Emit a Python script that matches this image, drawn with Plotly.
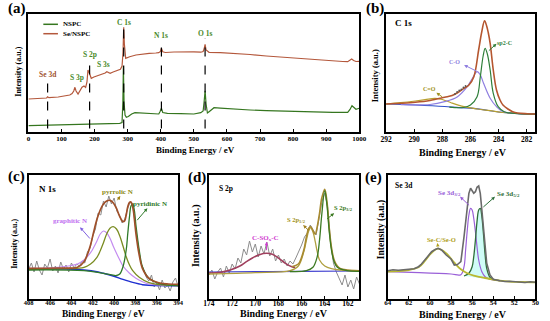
import plotly.graph_objects as go

W, H = 550, 321
SERIF = "Liberation Serif"

# ---------------- (a) survey ----------------
A_X_NSPC = [0, 50, 100, 150, 200, 250, 276, 283, 285.5, 287, 289, 292, 296, 302, 312, 322, 340, 370, 394, 398,
            402, 406, 420, 460, 500, 521, 528, 531, 534, 537, 541, 546, 553, 561, 580, 620, 670, 719, 770, 817,
            870, 920, 965, 972, 978, 984, 990, 1000]
A_Y_NSPC = [6.3, 6.6, 7.0, 7.3, 7.7, 8.2, 8.7, 9.5, 30, 66, 30, 17, 14.7, 15.5, 18, 19.3, 19, 18.5, 18, 20.5,
            23.7, 19.5, 18.7, 18.3, 18.0, 19.3, 21, 30, 41.3, 28, 19, 20.3, 22.5, 24.3, 23.8, 22.7, 22, 21.3, 20.8, 20,
            19.8, 19.7, 19.7, 22.5, 26.3, 24, 22.7, 23.7]
A_X_SE = [0, 30, 55, 58, 62, 90, 116, 125, 132, 137, 140.6, 144, 150, 156, 162, 168, 173, 177, 180, 184,
          190, 198, 208, 218, 227, 232, 237, 242, 247, 256, 266, 278, 283, 286, 288, 290, 294, 306, 325, 345,
          365, 385, 394, 399, 402, 406, 414, 440, 473, 500, 521, 528, 531, 534, 537, 546, 580, 620, 670, 719,
          770, 817, 870, 916, 950, 965, 971, 977, 983, 990, 1000]
A_Y_SE = [33, 33.5, 34, 35.2, 34.3, 35, 36, 37, 38.5, 41, 44.7, 41, 38, 41, 44.7, 46, 44.5, 50, 62, 59,
          53.7, 55, 56, 57, 58, 59, 60.3, 59.5, 58.7, 60, 61.3, 62.7, 66, 80, 104.7, 88, 73.7, 75.3, 77, 78,
          78.7, 79, 79.3, 80.5, 83.7, 80.2, 79.5, 80, 80.3, 80.2, 79.8, 80.5, 83, 87.7, 82, 79.7, 79.3, 78.7, 77.5, 76,
          74.7, 73.3, 72, 71, 70.5, 70.3, 71.5, 73, 71.5, 70.5, 70.7]
A_DASH_X = [58, 185, 288, 402, 534]
A_DASH_TOP = [52, 67, 105.3, 90.3, 93.7]
A_DASH_BOTTOM = [3.5, 3.5, 3.5, 3.5, 3.5]
A_PEAK_LABELS = ["Se 3d", "S 3p", "S 2p", "S 3s", "C 1s", "N 1s", "O 1s"]
A_PEAK_LX = [58, 146, 185.5, 226.7, 288, 402, 534]
A_PEAK_LY = [58, 54.7, 78, 68, 109.3, 97, 98.7]

# ---------------- (b) C 1s ----------------
B_X_ENV = [292.0, 290.96, 289.92, 288.88, 287.84, 287.3, 286.92, 286.46, 286.11, 285.76, 285.42, 285.2, 285.0,
           284.85, 284.73, 284.6, 284.38, 284.15, 283.9, 283.69, 283.34, 283.0, 282.65, 281.96, 281.32]
B_Y_ENV = [28, 28.7, 29.7, 31.5, 34.7, 36.5, 39.3, 43.7, 47, 55.3, 82, 100, 111.3,
           106, 99, 88.7, 62, 42, 32, 27, 23, 20.3, 19, 18.3, 18]
B_X_BASE = [292.0, 289.92, 287.84, 286.8, 285.76, 284.73, 283.69, 282.65, 281.32]
B_Y_BASE = [28, 27, 25.5, 24.3, 23.7, 21.5, 19.5, 18.5, 18]
B_X_SP2 = [287.5, 286.5, 286.0, 285.53, 285.3, 285.1, 284.96, 284.8, 284.6, 284.38, 284.03, 283.6, 282.65, 281.32]
B_Y_SP2 = [24.8, 24.5, 27, 35.3, 55.3, 76, 83.7, 78, 62, 38.7, 25.3, 20.3, 18.3, 17.9]
B_X_CO = [290.96, 288.88, 287.84, 286.92, 286.23, 285.85, 285.53, 285.3, 285.07, 284.6, 284.15, 283.7, 282.65, 281.32]
B_Y_CO = [27.3, 27.5, 30.3, 35.3, 45.3, 54, 60.3, 57, 48.7, 33.7, 25.3, 20.5, 18.3, 17.9]
B_X_CEQO = [292.0, 290.96, 289.92, 289.23, 288.54, 288.0, 287.38, 286.46, 285.5, 284.6, 283.69, 282.65, 281.32]
B_Y_CEQO = [28, 29.3, 31, 32.3, 33.7, 32.5, 29.3, 25.3, 23, 21.3, 19.5, 18.5, 17.9]
B_X_RAW = [287.1, 286.95, 286.8, 286.65, 286.5, 286.35]
B_Y_RAW = [38, 40, 41.5, 42.5, 44.5, 46]

# ---------------- (c) N 1s ----------------
C_X_RAW = [408.00, 407.75, 407.50, 407.25, 407.00, 406.75, 406.50, 406.25, 406.00, 405.75, 405.50, 405.25,
           405.00, 404.75, 404.50, 404.25, 404.00, 403.75, 403.50, 403.25, 403.00, 402.75, 402.50, 402.25,
           402.00, 401.75, 401.50, 401.25, 401.00, 400.75, 400.50, 400.25, 400.00, 399.75, 399.50, 399.25,
           399.00, 398.75, 398.50, 398.25, 398.00, 397.75, 397.50, 397.25, 397.00, 396.75, 396.50, 396.25,
           396.00, 395.75, 395.50, 395.25, 395.00, 394.75, 394.50, 394.25, 394.00]
C_Y_RAW = [30, 36, 27, 38, 29, 24, 35, 31, 40, 28, 33, 26,
           37, 30, 34, 27, 36, 31, 35, 33, 38, 36, 47, 51,
           63, 70, 86, 84, 98, 92, 103, 95, 101, 88, 84, 76,
           80, 90, 97, 93, 72, 52, 36, 30, 22, 18, 24, 12,
           16, 9, 19, 11, 14, 8, 17, 21, 12]
C_X_ENV = [408.0, 405.26, 403.44, 402.82, 402.52, 402.21, 401.91, 401.61, 401.30, 401.0, 400.70, 400.39, 400.09,
           399.78, 399.47, 399.17, 399.02, 398.87, 398.72, 398.56, 398.42, 398.26, 398.11, 397.96, 397.65, 397.35,
           396.74, 395.82, 394.91, 394.0]
C_Y_ENV = [30.7, 31, 31.7, 37.3, 44, 54, 67.3, 79.7, 89, 95, 98, 98.7, 96.3,
           90.7, 82.3, 77.3, 78, 84, 92.3, 96.7, 97, 92.3, 80.7, 65.7, 44, 30.7,
           20.7, 16.3, 15, 14.7]
C_X_BASE = [408, 404.35, 402.82, 401.61, 401.0, 400.09, 399.17, 398.26, 397.65, 397.35, 396.74, 394]
C_Y_BASE = [30.3, 30, 29, 27.3, 25.7, 23, 19.7, 16.7, 15, 14.3, 13.7, 13.3]
C_X_GRA = [408, 405.26, 403.44, 402.82, 402.21, 401.91, 401.61, 401.30, 401.0, 400.70, 400.39, 400.09, 399.78,
           399.47, 399.17, 398.56, 397.96, 397.35, 396.74, 395.82, 394]
C_Y_GRA = [30.7, 31.7, 35, 39, 46.3, 51.7, 58, 65, 68, 66.3, 60.7, 53, 45.7,
           39, 33, 25.7, 20.7, 17.3, 15, 14, 13.3]
C_X_PYRRO = [408, 404.35, 402.82, 402.21, 401.61, 401.30, 401.0, 400.70, 400.39, 400.09, 399.78, 399.47, 399.17,
             398.87, 398.56, 398.26, 397.65, 396.74, 395.82, 394]
C_Y_PYRRO = [29.7, 30.3, 31.7, 35, 41.7, 48.3, 56.3, 65, 70.7, 72.3, 70, 63, 53,
             42.3, 34, 28.3, 21.7, 16.3, 14.3, 13.3]
C_X_PYRI = [408, 402.82, 401.0, 399.78, 399.47, 399.17, 398.87, 398.72, 398.56, 398.42, 398.26, 398.11, 397.96,
            397.65, 397.35, 396.74, 395.82, 394]
C_Y_PYRI = [29, 28.3, 25.7, 23.5, 25, 32.3, 49, 65.7, 82.3, 93, 95, 89, 74,
            49, 32.3, 20.7, 15.7, 13.3]

# ---------------- (d) S 2p ----------------
D_X_RAW = [174.00, 173.75, 173.50, 173.25, 173.00, 172.75, 172.50, 172.25, 172.00, 171.75, 171.50, 171.25,
           171.00, 170.75, 170.50, 170.25, 170.00, 169.75, 169.50, 169.25, 169.00, 168.75, 168.50, 168.25,
           168.00, 167.75, 167.50, 167.25, 167.00, 166.75, 166.50, 166.25, 166.00, 165.75, 165.50, 165.25,
           165.00, 164.75, 164.50, 164.25, 164.00, 163.75, 163.50, 163.25, 163.00, 162.75, 162.50, 162.25,
           162.00, 161.75, 161.50, 161.25, 161.00]
D_Y_RAW = [24, 29, 20, 27, 31, 22, 33, 26, 35, 30, 41, 36,
           50, 44, 58, 47, 55, 42, 53, 45, 57, 43, 50, 38,
           44, 36, 40, 33, 38, 35, 41, 47, 54, 62, 66, 74,
           69, 64, 80, 97, 106, 92, 58, 36, 27, 21, 14, 24,
           12, 19, 10, 22, 15]
D_X_BASE = [174, 170, 166, 161]
D_Y_BASE = [27, 27.3, 27.6, 28]
D_X_CSOX = [174, 173.01, 172.17, 171.33, 170.77, 170.21, 169.65, 169.03, 168.53, 167.96, 167.40, 166.84, 166.56]
D_Y_CSOX = [26, 26.7, 29, 33, 37.3, 41.3, 44.3, 45.7, 44.7, 40.7, 35.7, 32.3, 31.7]
D_X_P12 = [174, 170, 167, 166.28, 165.77, 165.58, 165.38, 165.21, 165.02, 164.82, 164.65, 164.45, 164.0, 163.42,
           162.63, 161]
D_Y_P12 = [25, 26.3, 28.3, 33, 49, 59, 68.3, 71.3, 67.3, 57.3, 47.3, 39, 33, 30.3, 29, 28.3]
D_X_P32 = [167, 165.58, 165.02, 164.65, 164.45, 164.26, 164.0, 163.81, 163.61, 163.42, 163.19, 162.91, 162.07, 161]
D_Y_P32 = [27.5, 28.3, 31.7, 42.3, 59, 84, 108.3, 94, 67.3, 49, 37.3, 31.7, 28.3, 27.7]
D_X_ENV = [166.84, 166.28, 166.0, 165.77, 165.58, 165.38, 165.21, 165.02, 164.82, 164.65, 164.45, 164.26, 164.0,
           163.81, 163.61, 163.42, 163.19, 162.91, 162.63, 162.07, 161]
D_Y_ENV = [32.3, 35, 41.7, 50.7, 62.3, 70.7, 72.3, 68.3, 65, 72.3, 85.7, 100.7, 109.7,
           97.3, 70.7, 51.7, 39, 33, 30.3, 29, 28.3]

# ---------------- (e) Se 3d ----------------
E_X_RAW = [64.0, 63.5, 63.0, 62.5, 62.0, 61.5, 61.08, 60.8, 60.46, 60.15, 59.84, 59.5, 59.23, 58.9, 58.46, 58.0,
           57.69, 57.4, 57.07, 56.77, 56.46, 56.31, 56.15, 56.0, 55.85, 55.69, 55.54, 55.38, 55.23, 55.08, 54.92,
           54.77, 54.62, 54.31, 54.0, 53.38, 52.9, 52.46, 52.0, 51.53, 51.0, 50.5, 50.0]
E_Y_RAW = [28.3, 29.3, 28.7, 29.5, 29.7, 30.3, 32.3, 35, 39, 43.5, 47.3, 49.5, 50.7, 49, 44, 40,
           34, 34.5, 37.3, 62.3, 92.3, 105.7, 110.7, 108.3, 105.7, 107.3, 111.7, 113, 105.7, 89, 67.3,
           49, 35.7, 24, 19.7, 18.3, 17.5, 17.7, 17.2, 17, 16.5, 17.2, 16.7]
E_X_D32 = [64, 61, 58, 57.07, 56.77, 56.62, 56.46, 56.31, 56.15, 56.0, 55.85, 55.69, 55.54, 55.38, 55.08, 54.77,
           54.31, 54.0, 53.38]
E_Y_D32 = [27.3, 26.3, 25, 24.3, 32.3, 49, 69, 84, 90.7, 89, 80.7, 67.3, 52.3, 39, 27.3, 22.3, 19.7, 19, 18.3]
E_X_D52 = [56.77, 56.31, 56.0, 55.85, 55.69, 55.54, 55.38, 55.23, 55.08, 54.92, 54.77, 54.62, 54.31, 54.0, 53.38]
E_Y_D52 = [23, 25.7, 32.3, 42.3, 59, 77.3, 89, 90.7, 82.3, 64, 44, 30.7, 21.7, 19.7, 18.3]
E_X_SEC = [64, 63, 62.0, 61.08, 60.46, 59.84, 59.23, 58.46, 57.69, 57.07, 56.46, 55.85, 55.08, 54.31, 53.38, 52.46,
           51.53, 50]
E_Y_SEC = [27.3, 27.8, 29, 31.7, 38.3, 46.3, 50.3, 45.7, 36.3, 29.7, 25.7, 23.3, 21.7, 20, 18.3, 17.3, 17, 16.7]

# ======================================================
fig = go.Figure()


def line(ax, x, y, color, width=1.2, shape="spline", dash=None, fill=None, fillcolor=None, mode="lines"):
    fig.add_trace(go.Scatter(
        x=x, y=y, xaxis="x" + ax, yaxis="y" + ax, mode=mode,
        line=dict(color=color, width=width, shape=shape, dash=dash),
        marker=dict(color=color, size=1.8),
        fill=fill, fillcolor=fillcolor, hoverinfo="skip", showlegend=False))


# (a)
dx, dy = [], []
for xv, top, bot in zip(A_DASH_X, A_DASH_TOP, A_DASH_BOTTOM):
    dx += [xv, xv, None]
    dy += [bot, top, None]
line("", A_X_NSPC, A_Y_NSPC, "#35761f", 1.2, "linear")
line("", A_X_SE, A_Y_SE, "#b4583c", 1.2, "linear")
line("", dx, dy, "black", 1.2, "linear", dash="dash")

# (b)
line("2", B_X_BASE, B_Y_BASE, "#2f4fc8", 1.2)
line("2", B_X_CEQO, B_Y_CEQO, "#b8a030", 1.2)
line("2", B_X_CO, B_Y_CO, "#8f7fe0", 1.2)
line("2", B_X_SP2, B_Y_SP2, "#2f7f3a", 1.2)
line("2", B_X_ENV, B_Y_ENV, "#b5562f", 1.6)
line("2", B_X_RAW, B_Y_RAW, "#555555", 1, mode="markers")

# (c)
line("3", C_X_RAW, C_Y_RAW, "#8c8c8c", 1.0, "linear")
line("3", C_X_BASE, C_Y_BASE, "#1f2fd0", 1.4)
line("3", C_X_GRA, C_Y_GRA, "#c48cf0", 1.2)
line("3", C_X_PYRRO, C_Y_PYRRO, "#7a8c22", 1.3)
line("3", C_X_PYRI, C_Y_PYRI, "#2f7a2a", 1.3)
line("3", C_X_ENV, C_Y_ENV, "#a0502a", 1.7)

# (d)
line("4", D_X_RAW, D_Y_RAW, "#8c8c8c", 1.0, "linear")
line("4", D_X_BASE, D_Y_BASE, "#4040d0", 1.2)
line("4", D_X_CSOX, D_Y_CSOX, "#a0405e", 1.6)
line("4", D_X_P12, D_Y_P12, "#b0a040", 1.3)
line("4", D_X_ENV, D_Y_ENV, "#a88a30", 1.6)
line("4", D_X_P32, D_Y_P32, "#3c7a22", 1.3)

# (e)
line("5", E_X_D52, E_Y_D52, "rgba(0,0,0,0)", 0.1, fill="toself", fillcolor="rgba(200,252,246,0.85)")
line("5", E_X_D32, E_Y_D32, "#9a60d8", 1.2)
line("5", E_X_D52, E_Y_D52, "#2f6f3a", 1.3)
line("5", E_X_SEC, E_Y_SEC, "#b8b830", 1.8)
line("5", E_X_RAW, E_Y_RAW, "#6a6a6a", 1.6, "linear")

# ---------------- axes ----------------
def xcfg(dom, rng, dtick, fsize, anchor, standoff):
    return dict(domain=dom, range=rng, dtick=dtick, tick0=0, anchor=anchor, showline=True, mirror=True,
                linecolor="black", linewidth=1.5, ticks="inside", ticklen=3, tickwidth=1, tickcolor="black",
                showgrid=False, zeroline=False, ticklabelstandoff=standoff,
                tickfont=dict(family=SERIF, size=fsize, color="black", weight="bold"))


def ycfg(dom, rng, anchor):
    return dict(domain=dom, range=rng, anchor=anchor, showline=True, mirror=True, linecolor="black",
                linewidth=1.5, ticks="", showticklabels=False, showgrid=False, zeroline=False)


top_dom = [1 - 132 / H, 1 - 14 / H]
bot_dom = [1 - 299 / H, 1 - 175 / H]

layout = dict(
    width=W, height=H, margin=dict(l=0, r=0, t=0, b=0),
    paper_bgcolor="white", plot_bgcolor="white", showlegend=False,
    xaxis=xcfg([23 / W, 362.5 / W], [0, 1000], 100, 7, "y", -1),
    yaxis=ycfg(top_dom, [0, 118], "x"),
    xaxis2=xcfg([390 / W, 543 / W], [292, 281.4], 2, 7.5, "y2", -1),
    yaxis2=ycfg(top_dom, [0, 118], "x2"),
    xaxis3=xcfg([23.3 / W, 176.7 / W], [408, 394], 2, 6.5, "y3", -4),
    yaxis3=ycfg(bot_dom, [0, 124], "x3"),
    xaxis4=xcfg([208.3 / W, 362.7 / W], [174, 161], 2, 7.5, "y4", -4),
    yaxis4=ycfg(bot_dom, [0, 124], "x4"),
    xaxis5=xcfg([391.7 / W, 543.3 / W], [64, 50], 2, 7, "y5", -4),
    yaxis5=ycfg(bot_dom, [0, 124], "x5"),
)

ann = []


def text(ax, x, y, s, color, size, xanchor="center"):
    ann.append(dict(xref="x" + ax, yref="y" + ax, x=x, y=y, text="<b>" + s + "</b>", showarrow=False,
                    font=dict(family=SERIF, size=size, color=color), xanchor=xanchor, yanchor="middle"))


def arrow(ax, xh, yh, xt, yt, color):
    ann.append(dict(xref="x" + ax, yref="y" + ax, x=xh, y=yh, ax=xt, ay=yt, axref="x" + ax, ayref="y" + ax,
                    text="", showarrow=True, arrowhead=2, arrowsize=0.7, arrowwidth=1, arrowcolor=color))


def ptext(px, py, s, size, color="black", angle=0, xanchor="center"):
    ann.append(dict(xref="paper", yref="paper", x=px / W, y=1 - py / H, text="<b>" + s + "</b>",
                    showarrow=False, font=dict(family=SERIF, size=size, color=color), textangle=angle,
                    xanchor=xanchor, yanchor="middle"))


# panel letters
ptext(11, 8, "(a)", 15)
ptext(379, 8, "(b)", 15)
ptext(11, 177, "(c)", 15)
ptext(196, 178, "(d)", 15)
ptext(377, 178, "(e)", 15)

# axis titles
ptext(194, 150, "Binding Energy / eV", 9)
ptext(469, 152, "Binding Energy / eV", 10)
ptext(100, 314, "Binding Energy / eV", 9.5)
ptext(285, 313.5, "Binding Energy / eV", 10)
ptext(469, 314, "Binding Energy / eV", 10)
ptext(12, 72, "Intensity (a.u.)", 8, angle=-90)
ptext(379, 76, "Intensity (a.u.)", 8.5, angle=-90)
ptext(8, 244, "Intensity (a.u.)", 8, angle=-90)
ptext(195, 236, "Intensity (a.u.)", 10, angle=-90)
ptext(385, 230, "Intensity (a.u.)", 9.5, angle=-90)

# (a) peak labels and legend
for lab, lx, ly in zip(A_PEAK_LABELS, A_PEAK_LX, A_PEAK_LY):
    text("", lx, ly, lab, "#a0522d" if lab == "Se 3d" else "#4a8a2a", 7.5)
shapes = [
    dict(type="line", xref="paper", yref="paper", x0=38.3 / W, x1=53.3 / W, y0=1 - 24.3 / H, y1=1 - 24.3 / H,
         line=dict(color="#35761f", width=1.5)),
    dict(type="line", xref="paper", yref="paper", x0=38.3 / W, x1=53.3 / W, y0=1 - 33.7 / H, y1=1 - 33.7 / H,
         line=dict(color="#b4583c", width=1.5)),
]
ptext(56.7, 24.3, "NSPC", 7, xanchor="left")
ptext(56.7, 33.7, "Se/NSPC", 7, xanchor="left")

# (b)
text("2", 291.54, 108.7, "C 1s", "black", 9, "left")
text("2", 283.57, 89.3, "sp2-C", "#2f7f3a", 6)
text("2", 287.15, 69.7, "C-O", "#8f7fe0", 6)
text("2", 288.88, 43, "C=O", "#a09020", 6)
arrow("2", 284.15, 88.2, 284.8, 80, "#2f7f3a")
arrow("2", 286.45, 67, 285.45, 60, "#8f7fe0")
arrow("2", 288.42, 39.3, 287.9, 34, "#a09020")

# (c)
text("3", 407.23, 109.7, "N 1s", "black", 9, "left")
text("3", 399.72, 107.3, "pyrrolic N", "#8a8a10", 7)
text("3", 396.68, 95, "pyridinic N", "#2f7a2a", 7)
text("3", 404.13, 78, "graphitic N", "#c070f0", 7)
arrow("3", 399.43, 103, 399.78, 97.3, "#a08010")
arrow("3", 396.89, 90.7, 397.96, 77.3, "#2f7a2a")
arrow("3", 403.19, 71.7, 402.15, 59, "#8060e0")

# (d)
text("4", 173.29, 110.7, "S 2p", "black", 7.5, "left")
text("4", 169.08, 60.7, "C-SO<sub>x</sub>-C", "#d040d0", 7)
text("4", 166.42, 79, "S 2p<sub>1/2</sub>", "#a09020", 6.5)
text("4", 162.35, 90.7, "S 2p<sub>3/2</sub>", "#3c7a22", 6.5)
arrow("4", 169.03, 57.3, 169.03, 47.3, "#d040d0")
arrow("4", 165.86, 74, 165.29, 67.3, "#a08020")
arrow("4", 163.19, 85.7, 163.92, 79, "#3c7a22")

# (e)
text("5", 63.51, 113, "Se 3d", "black", 7.5, "left")
text("5", 58.15, 105.7, "Se 3d<sub>3/2</sub>", "#9a60d8", 7)
text("5", 52.52, 104.7, "Se 3d<sub>5/2</sub>", "#2f6f3a", 7)
text("5", 58.92, 59, "Se-C/Se-O", "#b0a020", 6.5)
arrow("5", 57.14, 102.3, 56.15, 92.3, "#9a60d8")
arrow("5", 53.84, 102.3, 55.08, 90.7, "#2f6f3a")
arrow("5", 59.3, 56, 59.23, 51.7, "#b0a020")

layout["annotations"] = ann
layout["shapes"] = shapes
fig.update_layout(**layout)
fig.write_html("out.html", config={"displayModeBar": False},
               post_script="document.body.style.margin='0px';document.body.style.padding='0px';")
